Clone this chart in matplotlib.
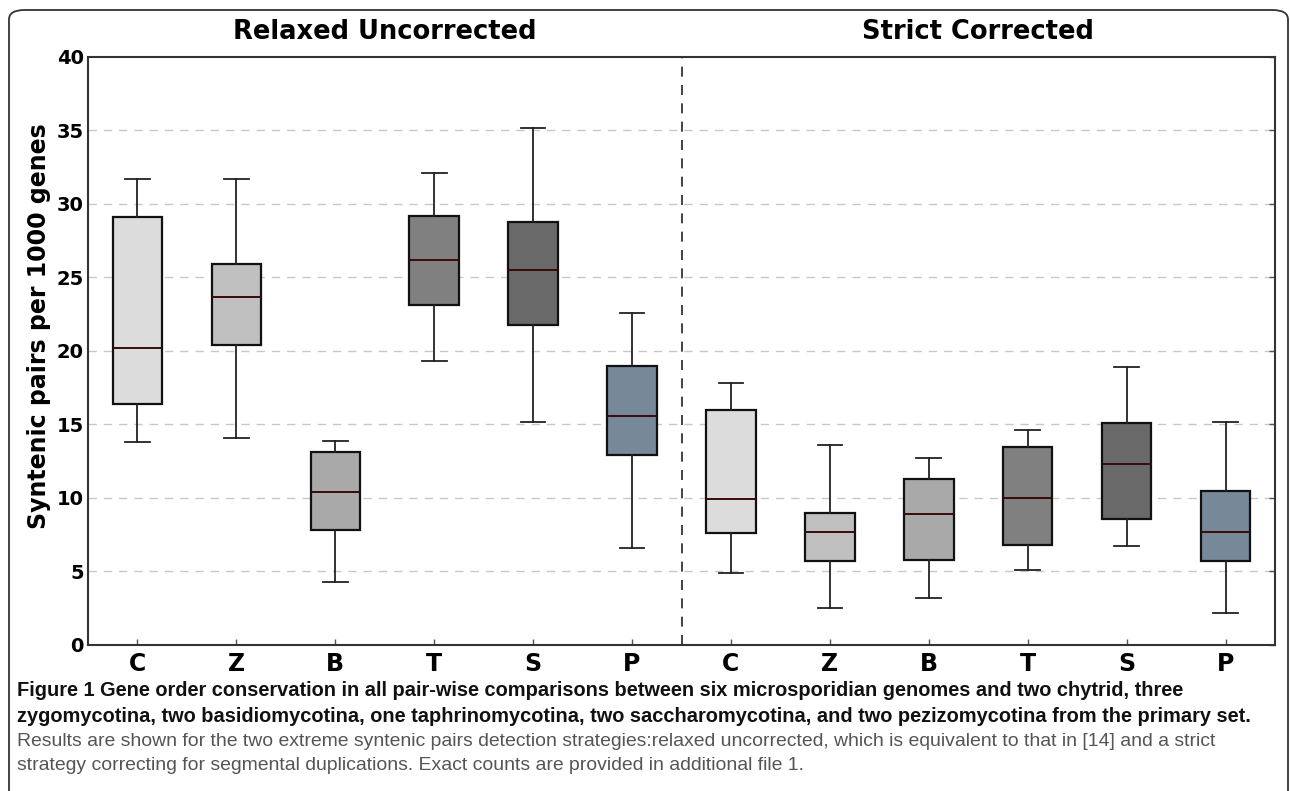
import matplotlib
matplotlib.use("Agg")
import matplotlib.pyplot as plt
from matplotlib.patches import FancyBboxPatch

# box statistics: (lower whisker, Q1, median, Q3, upper whisker)
groups = ['C', 'Z', 'B', 'T', 'S', 'P']
relaxed_low = [13.8, 14.1, 4.3, 19.3, 15.2, 6.6]
relaxed_q1 = [16.4, 20.4, 7.8, 23.1, 21.8, 12.9]
relaxed_med = [20.2, 23.7, 10.4, 26.2, 25.5, 15.6]
relaxed_q3 = [29.1, 25.9, 13.1, 29.2, 28.8, 19.0]
relaxed_high = [31.7, 31.7, 13.9, 32.1, 35.2, 22.6]

strict_low = [4.9, 2.5, 3.2, 5.1, 6.7, 2.2]
strict_q1 = [7.6, 5.7, 5.8, 6.8, 8.6, 5.7]
strict_med = [9.9, 7.7, 8.9, 10.0, 12.3, 7.7]
strict_q3 = [16.0, 9.0, 11.3, 13.5, 15.1, 10.5]
strict_high = [17.8, 13.6, 12.7, 14.6, 18.9, 15.2]

box_colors = ['#dcdcdc', '#c0c0c0', '#a9a9a9', '#808080', '#696969', '#778899']

caption_bold = [
    "Figure 1 Gene order conservation in all pair-wise comparisons between six microsporidian genomes and two chytrid, three",
    "zygomycotina, two basidiomycotina, one taphrinomycotina, two saccharomycotina, and two pezizomycotina from the primary set.",
]
caption_plain = [
    "Results are shown for the two extreme syntenic pairs detection strategies:relaxed uncorrected, which is equivalent to that in [14] and a strict",
    "strategy correcting for segmental duplications. Exact counts are provided in additional file 1.",
]
# widths (px) the caption lines take in the original
bold_widths = [1261, 1239]
plain_widths = [1201, 806]

stats = []
for lo, q1, med, q3, hi in zip(relaxed_low + strict_low, relaxed_q1 + strict_q1,
                               relaxed_med + strict_med, relaxed_q3 + strict_q3,
                               relaxed_high + strict_high):
    stats.append({'whislo': lo, 'q1': q1, 'med': med, 'q3': q3, 'whishi': hi, 'fliers': []})

fig = plt.figure(figsize=(12.9, 7.91), dpi=100)
ax = fig.add_axes([0.0682, 0.1846, 0.9202, 0.7434])

positions = list(range(1, len(stats) + 1))
bp = ax.bxp(stats, positions=positions, widths=0.5, patch_artist=True,
            boxprops=dict(edgecolor='#111111', linewidth=1.6),
            whiskerprops=dict(color='#222222', linewidth=1.3),
            capprops=dict(color='#222222', linewidth=1.3),
            medianprops=dict(color='#3a0a0a', linewidth=1.4))
for patch, col in zip(bp['boxes'], box_colors * 2):
    patch.set_facecolor(col)
    patch.set_zorder(2)

ax.set_xlim(0.5, 12.5)
ax.set_ylim(0, 40)
ax.set_yticks(range(0, 41, 5))
ax.set_yticklabels([str(v) for v in range(0, 41, 5)], fontsize=14, fontweight='bold')
ax.set_xticks(positions)
ax.set_xticklabels(groups * 2, fontsize=17, fontweight='bold')
ax.tick_params(axis='both', direction='in', length=4, width=1, color='#555555', pad=3)
ax.tick_params(axis='y', right=True, left=False)
ax.tick_params(axis='x', pad=5)

for y in range(5, 40, 5):
    ax.axhline(y, color='#c8c8c8', linestyle=(0, (6, 5)), linewidth=1, zorder=0)
ax.axvline(6.5, color='#222222', linestyle=(0, (6, 5)), linewidth=1.2, zorder=1)

for s in ax.spines.values():
    s.set_color('#333333')
    s.set_linewidth(1.5)

ax.set_ylabel('Syntenic pairs per 1000 genes', fontsize=17, fontweight='bold', labelpad=4)
ax.yaxis.label.set_y(0.543)

ax.text(3.5, 40.8, 'Relaxed Uncorrected', ha='center', va='bottom', fontsize=18.5, fontweight='bold')
ax.text(9.5, 40.8, 'Strict Corrected', ha='center', va='bottom', fontsize=18.5, fontweight='bold')

# rounded frame around the whole figure (bottom runs off the page)
W, H = 1290.0, 791.0
frame = FancyBboxPatch((9 / W, -20 / H), 1279 / W, 801 / H,
                       boxstyle='round,pad=0,rounding_size=0.012',
                       transform=fig.transFigure, fill=False,
                       edgecolor='#333333', linewidth=1.3)
fig.patches.append(frame)

# caption: pick a font size so the wrapped lines fit the same widths as the original
renderer = fig.canvas.get_renderer()


def fitted_size(lines, widths, weight):
    sizes = []
    for text, target in zip(lines, widths):
        t = fig.text(0, 0, text, fontsize=14, fontweight=weight, family='Liberation Sans')
        w = t.get_window_extent(renderer).width
        t.remove()
        sizes.append(14 * target / w)
    return min(sizes)


bold_size = fitted_size(caption_bold, bold_widths, 'bold')
plain_size = fitted_size(caption_plain, plain_widths, 'normal')

ys = [690, 716, 741, 766]
for i, line in enumerate(caption_bold):
    fig.text(17 / W, 1 - ys[i] / H, line, ha='left', va='center', fontsize=bold_size,
             fontweight='bold', family='Liberation Sans', color='#111111')
for i, line in enumerate(caption_plain):
    fig.text(17 / W, 1 - ys[i + 2] / H, line, ha='left', va='center', fontsize=plain_size,
             family='Liberation Sans', color='#555555')

fig.savefig('out.png', dpi=100)
